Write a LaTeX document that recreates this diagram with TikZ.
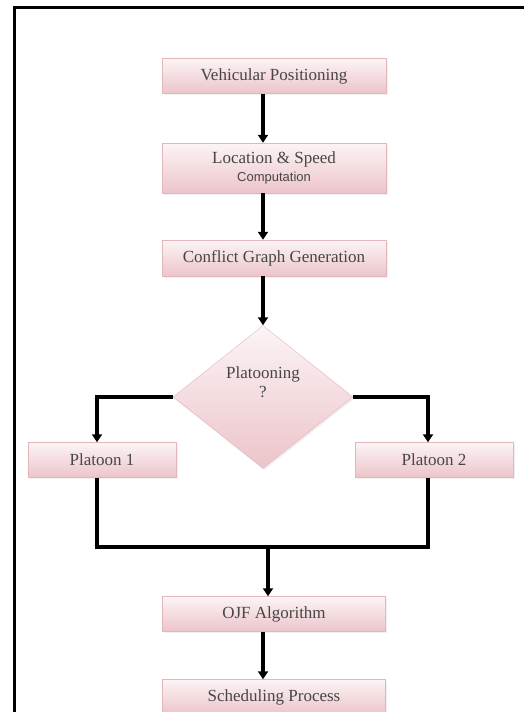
\documentclass[tikz,border=0pt]{standalone}
\usepackage{fontspec}
\setmainfont{Liberation Serif}
\setsansfont{Liberation Sans}
\usepackage{tikz}
\usetikzlibrary{shapes, shapes.geometric, shadows, positioning, arrows.meta, calc}
\definecolor{boxTop}{RGB}{252,244,245}
\definecolor{boxBot}{RGB}{236,196,202}
\definecolor{boxBord}{RGB}{228,182,188}
\definecolor{boxText}{RGB}{70,70,70}
\tikzstyle{procBox}=[rectangle, draw=boxBord, top color=boxTop, bottom color=boxBot,
  text=boxText, font=\fontsize{17}{19}\selectfont, align=center,
  drop shadow={opacity=0.12, shadow xshift=1.5pt, shadow yshift=-1.5pt}]
\tikzstyle{decision}=[diamond, draw=boxBord, top color=boxTop, bottom color=boxBot,
  minimum width=180pt, minimum height=143pt, inner sep=0pt,
  drop shadow={opacity=0.12, shadow xshift=1.5pt, shadow yshift=-1.5pt}]
\tikzstyle{flowLine}=[line width=3.2pt, draw=black]
\tikzstyle{flowArrow}=[flowLine, -{Triangle[width=10pt, length=8pt]}]
\tikzstyle{frameBord}=[line width=3pt, draw=black]

\begin{document}
\begin{tikzpicture}[x=1pt, y=-1pt]
      \useasboundingbox (0,0) rectangle (524,712);
      \clip (0,0) rectangle (524,712);
      \draw[frameBord] (14.5,740) -- (14.5,7.5) -- (540,7.5);

      \node[procBox, minimum width=224pt, minimum height=35pt] (vp) at (274,76)
        {Vehicular Positioning};
      \node[procBox, minimum width=224pt, minimum height=50pt, inner sep=2pt] (lsc) at (274,168)
        {Location \& Speed\\[-1pt]{\sffamily\fontsize{13}{14}\selectfont Computation}};
      \node[procBox, minimum width=224pt, minimum height=36pt] (cgg) at (274,258)
        {Conflict Graph Generation};
      \node[decision, label={[align=center, text=boxText, yshift=15pt,
          font=\fontsize{17}{19}\selectfont]center:Platooning\\?}] (dia) at (263,397) {};
      \node[procBox, minimum width=148pt, minimum height=35pt] (p1) at (102,460)
        {Platoon 1};
      \node[procBox, minimum width=158pt, minimum height=35pt] (p2) at (434,460)
        {Platoon 2};
      \node[procBox, minimum width=223pt, minimum height=35pt] (ojf) at (274,614)
        {OJF Algorithm};
      \node[procBox, minimum width=223pt, minimum height=35pt] (sp) at (274,697)
        {Scheduling Process};

      \coordinate (merge) at (268,547);

      \draw[flowArrow] (vp.south -| dia) -- (lsc.north -| dia);
      \draw[flowArrow] (lsc.south -| dia) -- (cgg.north -| dia);
      \draw[flowArrow] (cgg.south -| dia) -- (dia.north);
      \draw[flowArrow] (dia.west) -| ([xshift=-5pt]p1.north);
      \draw[flowArrow] (dia.east) -| ([xshift=-6pt]p2.north);
      \draw[flowLine] ([xshift=-5pt]p1.south) |- (merge) -| ([xshift=-6pt]p2.south);
      \draw[flowArrow] (merge) -- (ojf.north -| merge);
      \draw[flowArrow] (ojf.south -| dia) -- (sp.north -| dia);
    \end{tikzpicture}
\end{document}
